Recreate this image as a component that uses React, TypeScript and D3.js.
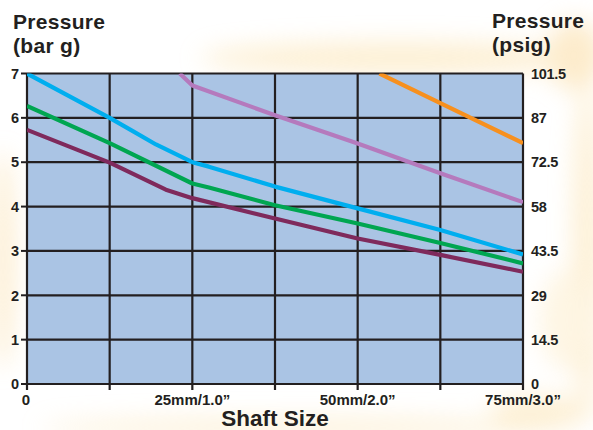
import React from "react";
import * as d3 from "d3";

// ---- data ----
const xGridValues = [0, 12.5, 25, 37.5, 50, 62.5, 75];
const xLabelValues = [0, 25, 50, 75];
const xLabelTexts = ["0", "25mm/1.0\u201D", "50mm/2.0\u201D", "75mm/3.0\u201D"];
const barTicks = [0, 1, 2, 3, 4, 5, 6, 7];
const psigTicks = ["0", "14.5", "29", "43.5", "58", "72.5", "87", "101.5"];

const cyanX = [0, 12.5, 16, 19.5, 25, 27.5, 37.5, 50, 62.5, 75];
const cyanY = [7.0, 6.0, 5.7, 5.4, 5.0, 4.9, 4.45, 3.96, 3.47, 2.92];
const greenX = [0, 12.5, 25, 27.5, 37.5, 50, 62.5, 75];
const greenY = [6.27, 5.43, 4.52, 4.43, 4.03, 3.62, 3.18, 2.72];
const plumX = [0, 12.5, 21, 25, 37.5, 50, 62.5, 75];
const plumY = [5.73, 4.99, 4.38, 4.19, 3.73, 3.28, 2.91, 2.53];
const lavenderX = [23.1, 25, 37.5, 50, 62.5, 75];
const lavenderY = [7.0, 6.73, 6.06, 5.42, 4.75, 4.1];
const orangeX = [53.3, 62.5, 75];
const orangeY = [7.0, 6.33, 5.43];

const seriesList = [
  { xs: plumX, ys: plumY, color: "#7f2a5c" },
  { xs: greenX, ys: greenY, color: "#00a651" },
  { xs: cyanX, ys: cyanY, color: "#00aeef" },
  { xs: lavenderX, ys: lavenderY, color: "#b57abd" },
  { xs: orangeX, ys: orangeY, color: "#f7901e" },
];

const W = 593;
const H = 430;
const left = 27;
const right = 523;
const top = 73.5;
const bottom = 384;
const FONT = "'Liberation Sans', Arial, Helvetica, sans-serif";
const INK = "#231f20";

export default function App() {
  const x = d3.scaleLinear().domain([0, 75]).range([left, right]);
  const y = d3.scaleLinear().domain([0, 7]).range([bottom, top]);
  const line = d3
    .line<[number, number]>()
    .x((d) => x(d[0]))
    .y((d) => y(d[1]))
    .curve(d3.curveLinear);

  return (
    <svg
      width={W}
      height={H}
      style={{ position: "absolute", left: 0, top: 0, display: "block" }}
    >
      <defs>
        <filter id="glow" x="-50%" y="-50%" width="200%" height="200%">
          <feGaussianBlur stdDeviation="12" />
        </filter>
        <clipPath id="plotClip">
          <rect x={left} y={top} width={right - left} height={bottom - top} />
        </clipPath>
      </defs>
      <rect x={0} y={0} width={W} height={H} fill="#ffffff" />
      <g filter="url(#glow)" opacity={0.5}>
        <ellipse cx={400} cy={58} rx={200} ry={16} fill="#fbe0a8" />
        <ellipse cx={575} cy={55} rx={28} ry={35} fill="#fad898" />
        <ellipse cx={587} cy={250} rx={14} ry={170} fill="#fbe0a8" />
        <ellipse cx={565} cy={320} rx={25} ry={50} fill="#fdecc8" />
        <ellipse cx={3} cy={260} rx={10} ry={110} fill="#fad898" />
        <ellipse cx={300} cy={428} rx={260} ry={10} fill="#fbe4b4" />
        <ellipse cx={540} cy={412} rx={50} ry={16} fill="#fbe0a8" />
      </g>

      {/* plot background */}
      <rect x={left} y={top} width={right - left} height={bottom - top} fill="#aac4e4" />

      {/* grid */}
      {barTicks.map((v) => (
        <line key={"h" + v} x1={left} x2={right} y1={y(v)} y2={y(v)} stroke={INK} strokeWidth={2.2} />
      ))}
      {xGridValues.map((v) => (
        <line key={"v" + v} x1={x(v)} x2={x(v)} y1={top} y2={bottom + 6} stroke={INK} strokeWidth={2.2} />
      ))}
      {barTicks.map((v) => (
        <line key={"t" + v} x1={left - 6} x2={left} y1={y(v)} y2={y(v)} stroke={INK} strokeWidth={2} />
      ))}

      {/* series */}
      <g clipPath="url(#plotClip)">
        {seriesList.map((s, i) => (
          <path
            key={i}
            d={line(s.xs.map((xv, j) => [xv, s.ys[j]] as [number, number])) || ""}
            fill="none"
            stroke={s.color}
            strokeWidth={4.2}
            strokeLinejoin="round"
          />
        ))}
      </g>

      {/* left axis labels */}
      {barTicks.map((v) => (
        <text
          key={"lb" + v}
          x={19}
          y={y(v)}
          dy="0.36em"
          textAnchor="end"
          fontFamily={FONT}
          fontWeight="bold"
          fontSize={14.5}
          fill={INK}
        >
          {v}
        </text>
      ))}
      {/* right axis labels */}
      {psigTicks.map((t, i) => (
        <text
          key={"rb" + i}
          x={531}
          y={y(barTicks[i])}
          dy="0.36em"
          textAnchor="start"
          fontFamily={FONT}
          fontWeight="bold"
          fontSize={14.5}
          fill={INK}
          letterSpacing={-0.3}
        >
          {t}
        </text>
      ))}
      {/* x labels */}
      {xLabelValues.map((v, i) => (
        <text
          key={"xl" + v}
          x={x(v) - (i === 0 ? 1 : 0)}
          y={405}
          textAnchor="middle"
          fontFamily={FONT}
          fontWeight="bold"
          fontSize={15}
          fill={INK}
        >
          {xLabelTexts[i]}
        </text>
      ))}

      {/* titles */}
      <text x={13} y={29} fontFamily={FONT} fontWeight="bold" fontSize={21} letterSpacing={0.3} fill={INK}>
        Pressure
      </text>
      <text x={13} y={53} fontFamily={FONT} fontWeight="bold" fontSize={21} letterSpacing={0.3} fill={INK}>
        (bar g)
      </text>
      <text x={492} y={28} fontFamily={FONT} fontWeight="bold" fontSize={21} letterSpacing={0.3} fill={INK}>
        Pressure
      </text>
      <text x={492} y={52} fontFamily={FONT} fontWeight="bold" fontSize={21} letterSpacing={0.3} fill={INK}>
        (psig)
      </text>
      <text
        x={275}
        y={426}
        textAnchor="middle"
        fontFamily={FONT}
        fontWeight="bold"
        fontSize={22.5}
        fill={INK}
      >
        Shaft Size
      </text>
    </svg>
  );
}
